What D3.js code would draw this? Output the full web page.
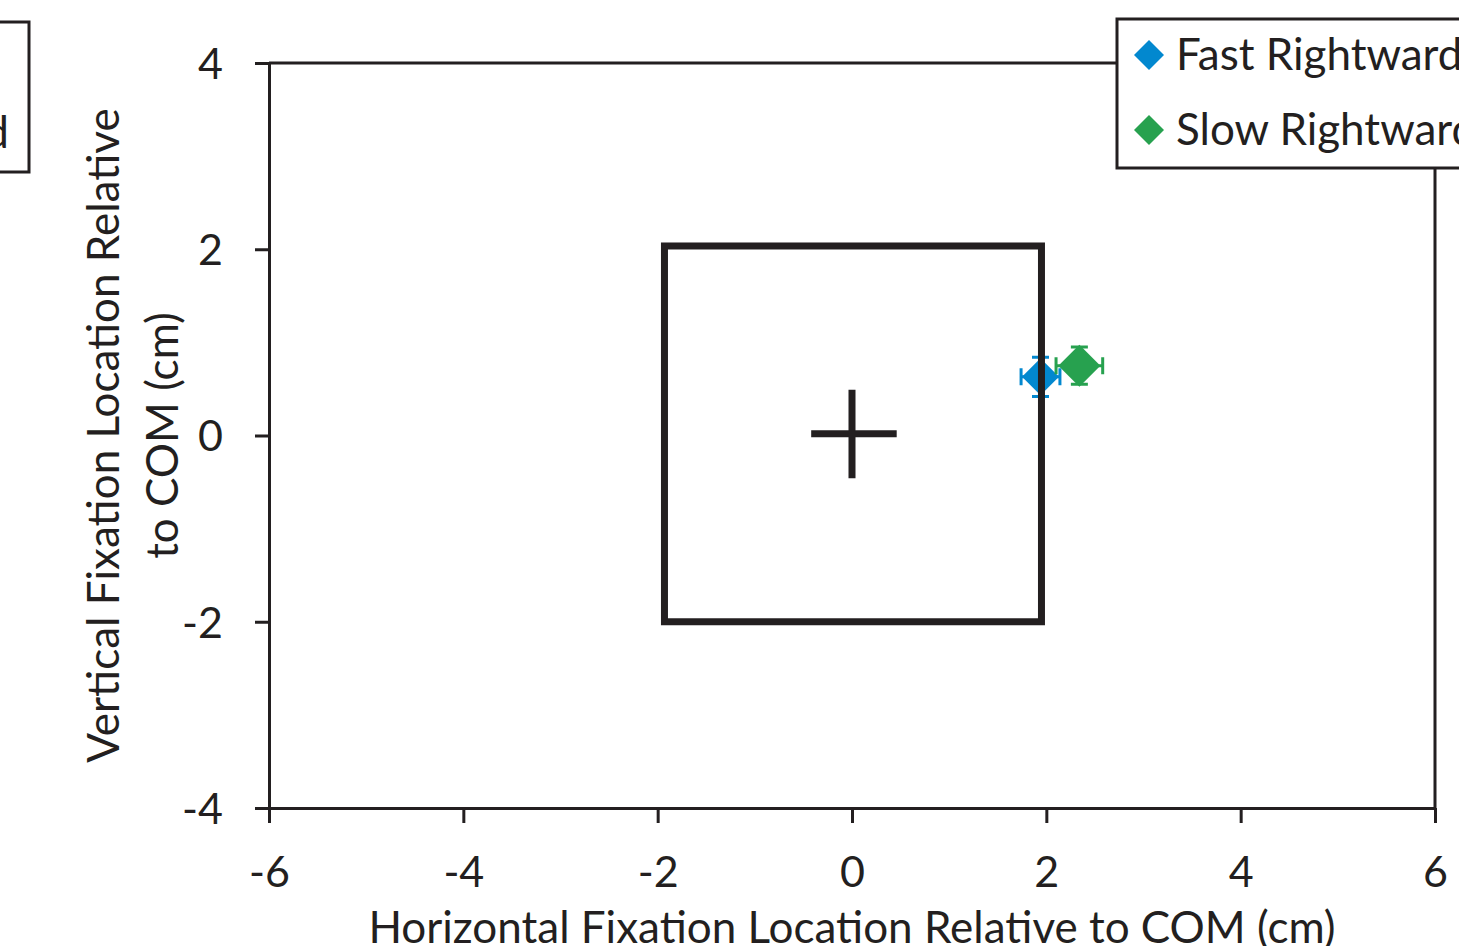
<!DOCTYPE html>
<html>
<head>
<meta charset="utf-8">
<script src="https://cdn.jsdelivr.net/npm/d3@7"></script>
<style>
  body { margin: 0; background: #fff; }
  svg text { font-family: Lato, "Open Sans", sans-serif; fill: #231f20; }
</style>
</head>
<body>
<div id="chart"></div>
<script>
// data
var seriesNames = ["Fast Rightward", "Slow Rightward"];
var xMeans = [1.94, 2.34];
var yMeans = [0.63, 0.75];
var xErr = [0.20, 0.24];
var yErr = [0.21, 0.20];

var leftLegendLabels = ["Fast Leftward", "Slow Leftward"];

// square around the COM and the cross at its centre
var squareX = [-1.93, 1.95];
var squareY = [-2.0, 2.035];
var crossX = [-0.42, 0.46];
var crossY = [-0.46, 0.49];
var crossCentre = [0, 0.02];

var xTicks = [-6, -4, -2, 0, 2, 4, 6];
var yTicks = [-4, -2, 0, 2, 4];

var colors = ["#0288cf", "#27a14f"];
var markerHalf = [18.5, 21];
var ink = "#231f20";

var svgWidth = 1459;
var svgHeight = 946;

var svg = d3.select("#chart")
  .append("svg")
  .attr("width", svgWidth)
  .attr("height", svgHeight);

svg.append("rect").attr("width", svgWidth).attr("height", svgHeight).attr("fill", "#fff");

var x = d3.scaleLinear().domain([-6, 6]).range([269, 1435]);
var y = d3.scaleLinear().domain([-4, 4]).range([808, 63]);

// frame (top and right)
svg.append("path")
  .attr("d", `M${x(-6)},${y(4)}H${x(6)}V${y(-4)}`)
  .attr("fill", "none")
  .attr("stroke", ink)
  .attr("stroke-width", 3);

// x axis
var xAxis = svg.append("g")
  .attr("transform", `translate(0, ${y(-4)})`)
  .call(d3.axisBottom(x).tickValues(xTicks).tickSize(15).tickSizeOuter(0));
xAxis.select(".domain").attr("stroke", ink).attr("stroke-width", 3);
xAxis.selectAll(".tick line").attr("stroke", ink).attr("stroke-width", 3);
xAxis.selectAll(".tick text")
  .attr("y", 79).attr("dy", 0)
  .attr("font-size", "43px")
  .text(d => d < 0 ? "-" + Math.abs(d) : d);

// y axis
var yAxis = svg.append("g")
  .attr("transform", `translate(${x(-6)}, 0)`)
  .call(d3.axisLeft(y).tickValues(yTicks).tickSize(14).tickSizeOuter(0));
yAxis.select(".domain").attr("stroke", ink).attr("stroke-width", 3);
yAxis.selectAll(".tick line").attr("stroke", ink).attr("stroke-width", 3);
yAxis.selectAll(".tick text")
  .attr("x", -46).attr("dy", "0.36em")
  .attr("font-size", "43px")
  .text(d => d < 0 ? "-" + Math.abs(d) : d);

svg.selectAll(".tick text").style("fill", ink);

// axis titles
svg.append("text")
  .attr("x", (x(-6) + x(6)) / 2)
  .attr("y", 943)
  .attr("text-anchor", "middle")
  .attr("font-size", "44px")
  .text("Horizontal Fixation Location Relative to COM (cm)");

var yTitle = svg.append("text")
  .attr("transform", `translate(119, ${(y(4) + y(-4)) / 2}) rotate(-90)`)
  .attr("text-anchor", "middle")
  .attr("font-size", "44px");
yTitle.append("tspan").attr("x", 0).attr("y", 0).text("Vertical Fixation Location Relative");
yTitle.append("tspan").attr("x", 0).attr("y", 59).text("to COM (cm)");

// points with error bars
var pts = seriesNames.map((n, i) => ({name: n, x: xMeans[i], y: yMeans[i], ex: xErr[i], ey: yErr[i], i: i}));
var cap = 8.5;

var ptGroup = svg.append("g")
  .selectAll("g")
  .data(pts)
  .enter()
  .append("g");

ptGroup.append("path")
  .attr("d", d => {
    var cx = x(d.x), cy = y(d.y);
    var x0 = x(d.x - d.ex), x1 = x(d.x + d.ex);
    var y0 = y(d.y - d.ey), y1 = y(d.y + d.ey);
    return `M${x0},${cy}H${x1}M${cx},${y0}V${y1}` +
      `M${x0},${cy - cap}V${cy + cap}M${x1},${cy - cap}V${cy + cap}` +
      `M${cx - cap},${y0}H${cx + cap}M${cx - cap},${y1}H${cx + cap}`;
  })
  .attr("fill", "none")
  .attr("stroke", d => colors[d.i])
  .attr("stroke-width", 3);

ptGroup.append("path")
  .attr("d", d => {
    var h = markerHalf[d.i];
    return d3.symbol(d3.symbolSquare, 2 * h * h)();
  })
  .attr("transform", d => `translate(${x(d.x)}, ${y(d.y)}) rotate(45)`)
  .attr("fill", d => colors[d.i]);

// square and cross, drawn over the points
svg.append("rect")
  .attr("x", x(squareX[0]))
  .attr("y", y(squareY[1]))
  .attr("width", x(squareX[1]) - x(squareX[0]))
  .attr("height", y(squareY[0]) - y(squareY[1]))
  .attr("fill", "none")
  .attr("stroke", ink)
  .attr("stroke-width", 7);

svg.append("path")
  .attr("d", `M${x(crossX[0])},${y(crossCentre[1])}H${x(crossX[1])}` +
    `M${x(crossCentre[0])},${y(crossY[1])}V${y(crossY[0])}`)
  .attr("stroke", ink)
  .attr("stroke-width", 7);

// legend (right, cut off by the picture edge)
var legend = svg.append("g");
legend.append("rect")
  .attr("x", 1117).attr("y", 19)
  .attr("width", 400).attr("height", 149)
  .attr("fill", "#fff")
  .attr("stroke", ink)
  .attr("stroke-width", 3);

seriesNames.forEach(function(n, i) {
  var cy = 55 + i * 75;
  legend.append("path")
    .attr("d", d3.symbol(d3.symbolSquare, 2 * 15 * 15)())
    .attr("transform", `translate(1149, ${cy}) rotate(45)`)
    .attr("fill", colors[i]);
  legend.append("text")
    .attr("x", 1176).attr("y", cy + 15)
    .attr("font-size", "44px")
    .text(n);
});

// legend of the neighbouring panel (left, mostly off the picture)
var leftLegend = svg.append("g");
leftLegend.append("rect")
  .attr("x", -400).attr("y", 22)
  .attr("width", 429).attr("height", 150)
  .attr("fill", "#fff")
  .attr("stroke", ink)
  .attr("stroke-width", 3);

var probe = leftLegend.append("text")
  .attr("font-size", "44px")
  .text(leftLegendLabels[1]);
var leftStart = 9 - probe.node().getComputedTextLength();
probe.remove();

leftLegendLabels.forEach(function(n, i) {
  leftLegend.append("text")
    .attr("x", leftStart).attr("y", 73 + i * 75)
    .attr("font-size", "44px")
    .text(n);
});
</script>
</body>
</html>
